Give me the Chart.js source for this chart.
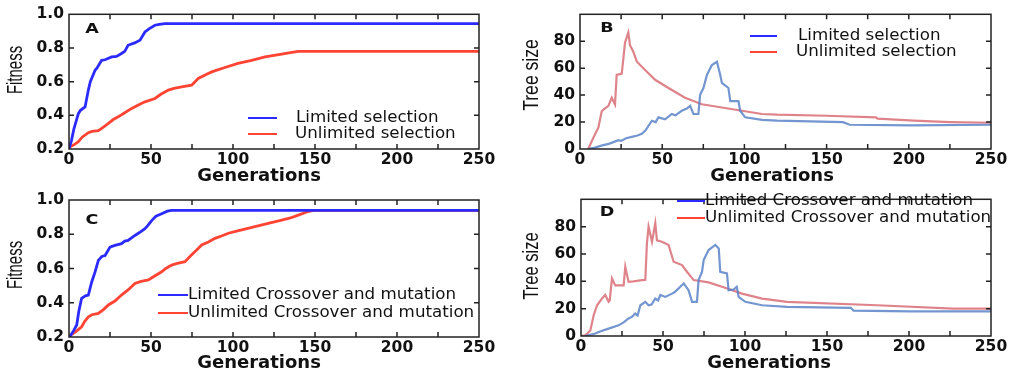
<!DOCTYPE html>
<html><head><meta charset="utf-8">
<script src="https://cdn.jsdelivr.net/npm/chart.js@4.4.1/dist/chart.umd.min.js"></script>
<style>
html,body{margin:0;padding:0;background:#fff;}
#wrap{position:relative;width:1012px;height:371px;overflow:hidden;background:#fff;}
canvas{position:absolute;}
</style></head><body>
<div id="wrap">
<canvas id="cA" width="505" height="185" style="left:0px;top:0px"></canvas>
<canvas id="cB" width="507" height="185" style="left:505px;top:0px"></canvas>
<canvas id="cC" width="505" height="186" style="left:0px;top:185px"></canvas>
<canvas id="cD" width="507" height="186" style="left:505px;top:185px"></canvas>
</div>
<script>
// ---------- data ----------
const generationTicks = [0, 50, 100, 150, 200, 250];
const fitnessTicks = [0.2, 0.4, 0.6, 0.8, 1.0];
const sizeTicks = [0, 20, 40, 60, 80];

const seriesNamesSel = ['Limited selection', 'Unlimited selection'];
const seriesNamesCM = ['Limited Crossover and mutation', 'Unlimited Crossover and mutation'];

// Panel A: fitness, selection
const aLimitedX = [0, 1.5, 3, 5.7, 7, 9.8, 11.8, 13, 15.9, 17, 19.9, 22, 26, 29, 32, 34, 36, 40, 43.3, 46.3, 49, 52.4, 55, 58.5, 250];
const aLimitedY = [0.2, 0.25, 0.32, 0.41, 0.43, 0.45, 0.55, 0.6, 0.668, 0.68, 0.727, 0.73, 0.747, 0.75, 0.767, 0.78, 0.816, 0.83, 0.846, 0.895, 0.915, 0.935, 0.94, 0.945, 0.945];
const aUnlimitedX = [0, 3, 5.7, 8, 11.8, 14, 17.9, 21, 24, 27, 30, 34, 38.2, 42, 46.3, 52.4, 56, 60.6, 64, 68.7, 74.8, 78.8, 83, 87, 95.1, 103, 111.4, 119.5, 129.7, 135, 139.8, 250];
const aUnlimitedY = [0.21, 0.225, 0.243, 0.27, 0.297, 0.305, 0.309, 0.33, 0.352, 0.375, 0.391, 0.415, 0.441, 0.46, 0.48, 0.5, 0.525, 0.55, 0.56, 0.569, 0.579, 0.619, 0.64, 0.658, 0.684, 0.708, 0.727, 0.747, 0.763, 0.772, 0.78, 0.78];

// Panel B: tree size, selection
const bLimitedX = [5, 9, 13, 18, 23.3, 25, 28, 31.5, 35, 37.6, 40, 43.7, 46, 47.7, 51.8, 55.8, 58, 61.9, 65, 67, 69, 72, 73.1, 75.1, 77.2, 80.2, 83.3, 85.3, 86.3, 90.3, 91.4, 96.4, 97.4, 100.5, 110.7, 119.8, 140, 160, 164, 201, 250];
const bLimitedY = [0, 1, 2.5, 4, 6.5, 6, 8, 9, 10, 11.3, 14, 21, 20, 23.5, 22, 26, 25, 28.4, 30, 32, 26, 26, 40.5, 45.3, 55, 62.3, 64.7, 55, 49, 45.3, 35.6, 35.6, 28.4, 23.5, 21.6, 21, 20.5, 19.9, 18, 17.5, 18];
const bUnlimitedX = [5, 8, 11.2, 13.2, 15, 17.3, 19.3, 21.3, 22.3, 25.4, 27.4, 29.4, 30.4, 32.5, 34.5, 39.6, 45.7, 53.8, 63.9, 74.1, 86.3, 98.5, 110.7, 119.8, 150, 180, 181, 203, 225, 250];
const bUnlimitedY = [0, 8, 16, 28, 30, 32, 38, 33, 55, 56, 79, 86.5, 77, 72, 65, 58.7, 51.4, 45.3, 38, 33.2, 30.8, 28.4, 26, 25.5, 24.7, 23.5, 22.5, 21, 20, 19.5];

// Panel C: fitness, crossover and mutation
const cLimitedX = [0, 1.2, 3, 4.7, 6, 7.7, 10, 11.8, 13.8, 15.9, 17.9, 20, 22, 25, 28, 32, 34, 36, 40.2, 43, 46.3, 48, 50.4, 53, 56.5, 60, 62.6, 250];
const cLimitedY = [0.2, 0.212, 0.24, 0.27, 0.35, 0.426, 0.44, 0.445, 0.52, 0.58, 0.647, 0.67, 0.676, 0.725, 0.735, 0.745, 0.76, 0.764, 0.793, 0.81, 0.832, 0.85, 0.88, 0.905, 0.92, 0.935, 0.94, 0.94];
const cUnlimitedX = [0, 1.2, 4, 7.7, 9.5, 11.8, 14, 17.9, 21, 24, 28, 32, 36, 40.2, 44, 48.4, 52, 56.5, 59, 62.6, 66, 70.7, 74.8, 78, 80.9, 85, 89, 93, 97.2, 101, 105.3, 113.4, 121.5, 129.7, 135, 139.8, 145, 149, 250];
const cUnlimitedY = [0.2, 0.212, 0.23, 0.26, 0.29, 0.318, 0.33, 0.338, 0.36, 0.387, 0.41, 0.445, 0.475, 0.513, 0.525, 0.533, 0.555, 0.581, 0.6, 0.62, 0.63, 0.64, 0.68, 0.71, 0.737, 0.755, 0.776, 0.79, 0.806, 0.815, 0.825, 0.844, 0.864, 0.883, 0.895, 0.912, 0.93, 0.94, 0.94];

// Panel D: tree size, crossover and mutation
const dLimitedX = [2.6, 8.7, 12, 16.8, 22.9, 26, 29, 31, 33.1, 34.5, 36.2, 39.2, 41.2, 43, 45.3, 47, 48.4, 51.4, 55.5, 57, 59.5, 62.6, 65.6, 67.7, 70.7, 71.7, 73.8, 74.8, 77.8, 81.9, 84, 84.9, 89, 90, 93, 95, 96.1, 100.2, 110.4, 125.6, 164.5, 166.2, 201, 250];
const dLimitedY = [0, 1.8, 3.5, 5.4, 7.8, 10, 12.8, 14, 16.4, 15, 22.5, 25, 22.5, 23, 27.4, 26, 30, 28.6, 31, 32, 34.8, 38.5, 33.5, 25, 25, 40.9, 47, 55.6, 62.9, 66.6, 64, 47, 45.8, 33.5, 34, 36, 28.6, 25, 22.5, 21.3, 20.6, 18.5, 18, 18];
const dUnlimitedX = [0, 2.6, 5.7, 7.7, 9.8, 12.8, 14.8, 16.8, 17.5, 18.9, 20.9, 26, 27, 29, 32, 37.2, 39.2, 40.2, 41.2, 43.3, 45.3, 46.3, 49.4, 53.4, 56.5, 61.6, 64.6, 68.7, 77.8, 86, 98.2, 110.4, 125.6, 180.5, 227, 250];
const dUnlimitedY = [0, 0.5, 4, 15, 22.5, 27.4, 30, 25, 26, 42, 37, 37, 50.6, 39.6, 40, 40.9, 41, 67.8, 80, 69, 82.5, 70, 69, 66.6, 54.3, 51.9, 47, 40.9, 39.2, 36, 31, 27.4, 25, 22.5, 20, 20];

// ---------- helpers ----------
const pts = (xs, ys) => xs.map((x, i) => ({ x: x, y: ys[i] }));
const TICK_FONT = { family: 'DejaVu Sans', size: 15.5, weight: 'bold' };
const BLUE = '#2b2bff', RED = '#ff4433';
const BLUE_F = 'rgba(90,130,200,0.85)', RED_F = 'rgba(215,100,110,0.8)';

const decor = {
  id: 'decor',
  afterDraw(chart, args, o) {
    const ctx = chart.ctx, a = chart.chartArea;
    const xs = chart.scales.x, ys = chart.scales.y;
    ctx.save();
    ctx.strokeStyle = '#222';
    ctx.lineWidth = 1.5;
    ctx.strokeRect(a.left, a.top, a.right - a.left, a.bottom - a.top);
    const L = 5;
    ctx.beginPath();
    xs.ticks.forEach(t => {
      if (t.value <= xs.min || t.value >= xs.max) return;
      const p = xs.getPixelForValue(t.value);
      ctx.moveTo(p, a.bottom); ctx.lineTo(p, a.bottom - L);
      ctx.moveTo(p, a.top); ctx.lineTo(p, a.top + L);
    });
    ys.ticks.forEach(t => {
      if (t.value <= ys.min + 1e-9 || t.value >= ys.max - 1e-9) return;
      const p = ys.getPixelForValue(t.value);
      ctx.moveTo(a.left, p); ctx.lineTo(a.left + L, p);
      ctx.moveTo(a.right, p); ctx.lineTo(a.right - L, p);
    });
    ctx.stroke();

    ctx.fillStyle = '#111';
    ctx.textAlign = 'center';
    ctx.textBaseline = 'middle';

    ctx.save();
    ctx.translate(o.letterX, o.letterY);
    ctx.scale(1.3, 1);
    ctx.font = 'bold 13.5px "DejaVu Sans"';
    ctx.fillText(o.letter, 0, 0);
    ctx.restore();

    ctx.font = 'bold 18px "DejaVu Sans"';
    ctx.fillText(o.xTitle, o.xTitleX, o.xTitleY);

    ctx.save();
    ctx.translate(o.yTitleX, o.yTitleY);
    ctx.rotate(-Math.PI / 2);
    ctx.scale(o.yTitleSqueeze, 1);
    ctx.font = '22px "Liberation Sans"';
    ctx.fillText(o.yTitle, 0, 0);
    ctx.restore();

    ctx.font = '16.7px "DejaVu Sans"';
    ctx.textAlign = 'left';
    o.legend.forEach(item => {
      ctx.strokeStyle = item.color;
      ctx.lineWidth = 2;
      ctx.beginPath();
      ctx.moveTo(item.x1, item.y); ctx.lineTo(item.x2, item.y);
      ctx.stroke();
      ctx.fillStyle = '#111';
      ctx.fillText(item.text, item.tx, item.y);
    });
    ctx.restore();
  }
};

function makeChart(id, cfg) {
  const isFit = cfg.kind === 'fitness';
  return new Chart(document.getElementById(id), {
    type: 'line',
    data: {
      datasets: [
        { label: cfg.names[0], data: cfg.d0, borderColor: cfg.c0, borderWidth: cfg.w, pointRadius: 0, tension: 0, fill: false },
        { label: cfg.names[1], data: cfg.d1, borderColor: cfg.c1, borderWidth: cfg.w, pointRadius: 0, tension: 0, fill: false }
      ]
    },
    options: {
      responsive: false,
      animation: false,
      devicePixelRatio: 1,
      layout: { padding: { left: 0, top: cfg.padTop, right: cfg.padRight, bottom: 0 } },
      plugins: {
        legend: { display: false },
        tooltip: { enabled: false },
        decor: cfg.decor
      },
      scales: {
        x: {
          type: 'linear', min: 0, max: 250,
          grid: { display: false, drawTicks: false },
          border: { display: false },
          ticks: {
            stepSize: 25, autoSkip: false, maxRotation: 0, padding: 2,
            color: '#111', font: TICK_FONT,
            callback: v => generationTicks.includes(v) ? String(v) : ''
          },
          afterFit: s => { s.height = cfg.xH; }
        },
        y: {
          type: 'linear',
          min: isFit ? 0.2 : 0, max: isFit ? 1.0 : 100,
          grid: { display: false, drawTicks: false },
          border: { display: false },
          ticks: isFit ? {
            stepSize: 0.2, padding: 5, color: '#111', font: TICK_FONT,
            callback: v => { const r = Math.round(v * 10) / 10; return fitnessTicks.includes(r) ? r.toFixed(1) : ''; }
          } : {
            stepSize: 20, padding: 5, color: '#111', font: TICK_FONT,
            callback: v => sizeTicks.includes(v) ? String(v) : ''
          },
          afterFit: s => { s.width = cfg.yW; }
        }
      }
    },
    plugins: [decor]
  });
}

makeChart('cA', {
  kind: 'fitness', names: seriesNamesSel,
  d0: pts(aLimitedX, aLimitedY), d1: pts(aUnlimitedX, aUnlimitedY),
  c0: BLUE, c1: RED, w: 2.8,
  padTop: 14, padRight: 26, xH: 36, yW: 69,
  decor: {
    letter: 'A', letterX: 92, letterY: 29,
    xTitle: 'Generations', xTitleX: 259, xTitleY: 176,
    yTitle: 'Fitness', yTitleX: 16, yTitleY: 70, yTitleSqueeze: 0.68,
    legend: [
      { color: BLUE, x1: 248, x2: 277, y: 118, tx: 296, text: seriesNamesSel[0] },
      { color: RED, x1: 248, x2: 277, y: 134, tx: 295, text: seriesNamesSel[1] }
    ]
  }
});

makeChart('cB', {
  kind: 'size', names: seriesNamesSel,
  d0: pts(bLimitedX, bLimitedY), d1: pts(bUnlimitedX, bUnlimitedY),
  c0: BLUE_F, c1: RED_F, w: 2.2,
  padTop: 12, padRight: 21, xH: 36, yW: 75,
  decor: {
    letter: 'B', letterX: 102, letterY: 28,
    xTitle: 'Generations', xTitleX: 267, xTitleY: 176,
    yTitle: 'Tree size', yTitleX: 27, yTitleY: 75, yTitleSqueeze: 0.8,
    legend: [
      { color: BLUE, x1: 245, x2: 272, y: 36, tx: 293, text: seriesNamesSel[0] },
      { color: RED, x1: 245, x2: 272, y: 52, tx: 291, text: seriesNamesSel[1] }
    ]
  }
});

makeChart('cC', {
  kind: 'fitness', names: seriesNamesCM,
  d0: pts(cLimitedX, cLimitedY), d1: pts(cUnlimitedX, cUnlimitedY),
  c0: BLUE, c1: RED, w: 2.8,
  padTop: 15, padRight: 26, xH: 34, yW: 69,
  decor: {
    letter: 'C', letterX: 92, letterY: 35,
    xTitle: 'Generations', xTitleX: 259, xTitleY: 178,
    yTitle: 'Fitness', yTitleX: 16, yTitleY: 80, yTitleSqueeze: 0.68,
    legend: [
      { color: BLUE, x1: 158, x2: 188, y: 110, tx: 188, text: seriesNamesCM[0] },
      { color: RED, x1: 158, x2: 188, y: 128, tx: 188, text: seriesNamesCM[1] }
    ]
  }
});

makeChart('cD', {
  kind: 'size', names: seriesNamesCM,
  d0: pts(dLimitedX, dLimitedY), d1: pts(dUnlimitedX, dUnlimitedY),
  c0: BLUE_F, c1: RED_F, w: 2.2,
  padTop: 14, padRight: 21, xH: 35, yW: 76,
  decor: {
    letter: 'D', letterX: 102, letterY: 27,
    xTitle: 'Generations', xTitleX: 264, xTitleY: 178,
    yTitle: 'Tree size', yTitleX: 27, yTitleY: 81, yTitleSqueeze: 0.75,
    legend: [
      { color: BLUE, x1: 172, x2: 200, y: 16, tx: 200, text: seriesNamesCM[0] },
      { color: RED, x1: 172, x2: 200, y: 33, tx: 200, text: seriesNamesCM[1] }
    ]
  }
});
</script>
</body></html>
